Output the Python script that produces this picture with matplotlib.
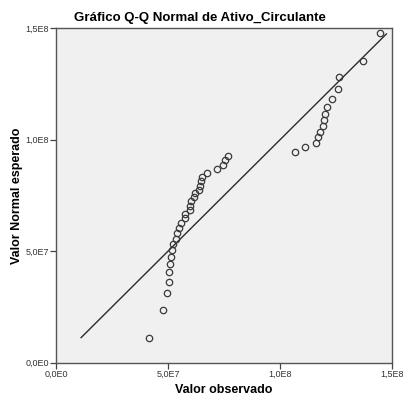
# Q-Q normal plot of Ativo_Circulante, SPSS look
import matplotlib.pyplot as plt

# observed values (x) and expected normal values (y), units of 1E7
observado = [4.17, 4.78, 4.97, 5.03, 5.06, 5.09, 5.15, 5.20, 5.24, 5.34,
             5.42, 5.50, 5.57, 5.75, 5.77, 5.97, 6.00, 6.03, 6.17, 6.21,
             6.37, 6.43, 6.47, 6.53, 6.73, 7.20, 7.44, 7.56, 7.67, 10.66,
             11.13, 11.62, 11.68, 11.79, 11.92, 11.98, 12.02, 12.11, 12.32,
             12.58, 12.62, 13.70, 14.46]
esperado = [1.11, 2.37, 3.11, 3.63, 4.05, 4.42, 4.75, 5.05, 5.31, 5.55,
            5.80, 6.03, 6.25, 6.48, 6.67, 6.83, 7.04, 7.24, 7.42, 7.60,
            7.74, 7.94, 8.14, 8.32, 8.52, 8.69, 8.88, 9.08, 9.27, 9.47,
            9.68, 9.87, 10.11, 10.36, 10.61, 10.88, 11.16, 11.49, 11.85,
            12.28, 12.82, 13.55, 14.78]
linha = [1.12, 14.75]  # reference line y = x
ticks = [0, 5, 10, 15]
tick_labels_x = ["0,0E0", "5,0E7", "1,0E8", "1,5E8"]
tick_labels_y = ["0,0E0", "5,0E7", "1,0E8", "1,5E8"]

plt.rcParams['font.family'] = ['Liberation Sans', 'DejaVu Sans']

fig = plt.figure(figsize=(4.03, 3.98), dpi=100)
ax = fig.add_axes([0.139, 0.089, 0.8337, 0.8397])
ax.set_facecolor("#f0f0f0")

ax.plot(linha, linha, color="#2b2b2b", lw=1.0)
ax.plot(observado, esperado, "o", mfc="none", mec="#3a3a3a", ms=4.6, mew=0.9)

ax.set_xlim(0, 15); ax.set_ylim(0, 15)
ax.set_xticks(ticks); ax.set_xticklabels(tick_labels_x)
ax.set_yticks(ticks); ax.set_yticklabels(tick_labels_y)
ax.tick_params(length=4, width=0.9, color="#444444", labelsize=6.5,
               labelcolor="#333333", pad=1)
for s in ax.spines.values():
    s.set_color("#555555"); s.set_linewidth(1.0)

ax.set_xlabel("Valor observado", fontsize=9, fontweight="bold", labelpad=4)
ax.set_ylabel("Valor Normal esperado", fontsize=9, fontweight="bold", labelpad=2)
fig.suptitle("Gráfico Q-Q Normal de Ativo_Circulante", x=0.495, y=0.97,
             fontsize=9.5, fontweight="bold")

plt.savefig("out.png", dpi=100)
